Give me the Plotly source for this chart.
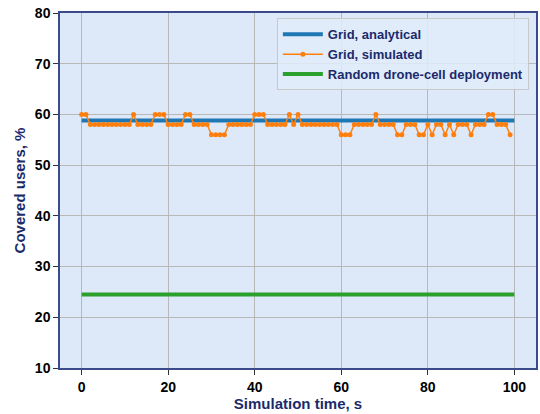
import plotly.graph_objects as go

time_s = list(range(100))
simulated = (
    [60, 60] + [58]*10 + [60] + [58]*4 + [60]*3 + [58]*4 + [60]*2 + [58]*4 +
    [56]*4 + [58]*6 + [60]*3 + [58]*5 + [60, 58, 60] + [58]*9 + [56]*3 +
    [58]*5 + [60] + [58]*4 + [56]*2 + [58]*3 + [56]*2 + [58, 56] + [58]*2 +
    [56, 58, 56] + [58]*3 + [56] + [58]*3 + [60]*2 + [58]*3 + [56]
)
analytical_x = [0, 100]
analytical = [58.8, 58.8]
random_x = [0, 100]
random_dep = [24.5, 24.5]

navy = "#1b2a6b"
fig = go.Figure()
fig.add_trace(go.Scatter(x=analytical_x, y=analytical, mode="lines",
                         line=dict(color="#1f77b4", width=4),
                         name="Grid, analytical"))
fig.add_trace(go.Scatter(x=time_s, y=simulated, mode="lines+markers",
                         line=dict(color="#ff7f0e", width=1.5),
                         marker=dict(color="#ff7f0e", size=5),
                         name="Grid, simulated"))
fig.add_trace(go.Scatter(x=random_x, y=random_dep, mode="lines",
                         line=dict(color="#2ca02c", width=4),
                         name="Random drone-cell deployment"))

axis_common = dict(showgrid=True, gridcolor="#b8b8b8", gridwidth=1,
                   showline=True, linecolor="#3a4a8a", linewidth=1.5, mirror=True,
                   ticks="outside", ticklen=5, tickcolor="#333333",
                   tickfont=dict(family="Liberation Sans, Arial", size=14, color="black",
                                 weight="bold"),
                   zeroline=False)
fig.update_xaxes(range=[-5, 105], tickvals=[0, 20, 40, 60, 80, 100],
                 title=dict(text="Simulation time, s", standoff=4,
                            font=dict(family="Liberation Sans, Arial", size=15,
                                      color=navy, weight="bold")),
                 **axis_common)
fig.update_yaxes(range=[10, 80], tickvals=list(range(10, 81, 10)),
                 title=dict(text="Covered users, %", standoff=6,
                            font=dict(family="Liberation Sans, Arial", size=15,
                                      color=navy, weight="bold")),
                 **axis_common)
fig.update_layout(
    width=540, height=414,
    margin=dict(l=60, r=2, t=13, b=46),
    paper_bgcolor="white", plot_bgcolor="#dde9f8",
    showlegend=True,
    legend=dict(x=0.985, y=0.985, xanchor="right", yanchor="top",
                bgcolor="rgba(225,236,250,0.85)", bordercolor="#c8c8c8", borderwidth=1,
                font=dict(family="Liberation Sans, Arial", size=13, color=navy,
                          weight="bold"),
                tracegroupgap=0, itemwidth=40),
)
fig.write_html("out.html")
